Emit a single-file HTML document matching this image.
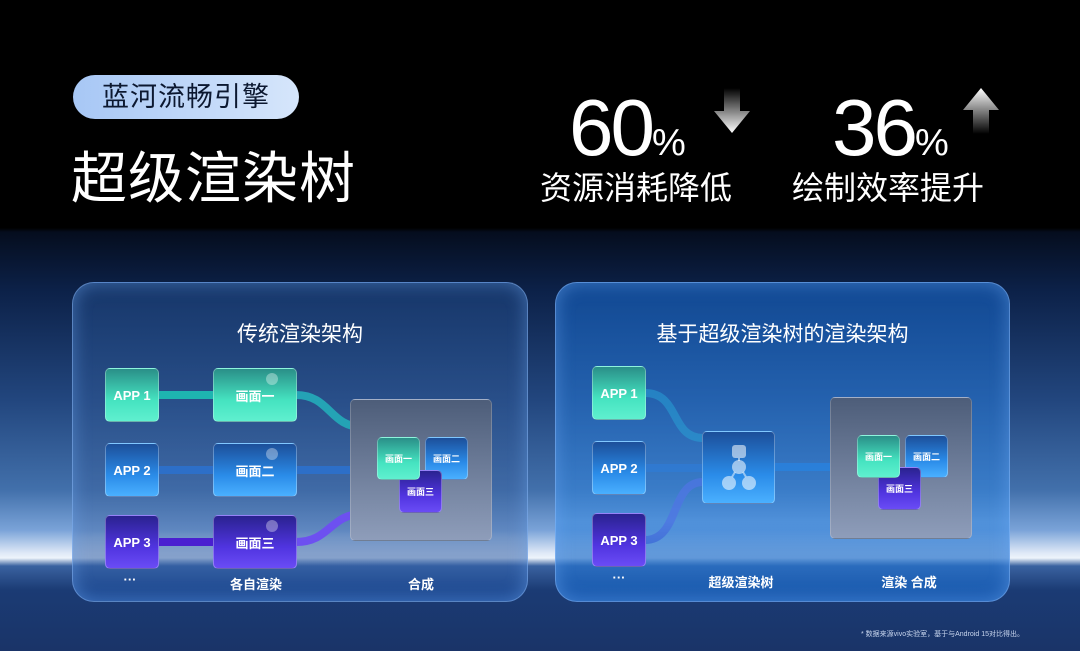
<!DOCTYPE html>
<html><head><meta charset="utf-8"><style>
*{margin:0;padding:0;box-sizing:border-box}
body{width:1080px;height:651px;overflow:hidden;position:relative;font-family:"Liberation Sans","Noto Sans CJK SC",sans-serif;color:#fff;
background:linear-gradient(180deg,#000 0,#000 228px,#050d1e 232px,#0c2148 290px,#22467e 400px,#4270ab 490px,#7aa3d8 530px,#dfe9f7 553px,#eef4fb 558px,#3a62a0 566px,#1b3b74 590px,#1a3468 651px)}
.a{position:absolute}
.pill{left:73px;top:75px;width:226px;height:44px;border-radius:22px;background:linear-gradient(90deg,#a7c7f5,#d6e6fb);color:#0c1830;font-size:27px;line-height:44px;text-align:center;letter-spacing:1px}
.h1{left:71px;top:146px;font-size:56px;line-height:66px;letter-spacing:1px}
.num{font-size:80px;line-height:80px;letter-spacing:-3px}
.pct{font-size:38px}
.sub{font-size:32px;line-height:36px}
.panel{border-radius:22px;border:1px solid rgba(140,190,255,.55);box-shadow:inset 0 0 18px rgba(120,180,255,.45)}
.pt{font-size:21px;text-align:center;width:100%;top:36px}
.app,.fr{border-radius:5px;font-size:13px;font-weight:bold;display:flex;align-items:center;justify-content:center;border:1px solid rgba(255,255,255,.3)}
.g{background:linear-gradient(180deg,#2a8f88,#45e3c0 60%,#5ff0cf)}
.b{background:linear-gradient(180deg,#1c4f9a,#2a8be8 60%,#4ab0ff)}
.p{background:linear-gradient(180deg,#2a2290,#5034e0 60%,#6a4cf5)}
.dot{position:absolute;border-radius:50%;background:rgba(255,255,255,.35)}
.comp{background:linear-gradient(180deg,#4d5d79,#8e9dba);border-radius:5px;border:1px solid rgba(255,255,255,.2)}
.sm{font-size:9px;font-weight:bold}
.lab{font-size:13px;font-weight:bold;text-align:center}
</style></head><body>
<div class="a pill">蓝河流畅引擎</div>
<div class="a h1">超级渲染树</div>

<div class="a num" style="left:569px;top:88px">60<span class="pct">%</span></div>
<svg class="a" style="left:713px;top:86px" width="40" height="50"><defs><linearGradient id="dg" x1="0" y1="0" x2="0" y2="1"><stop offset="0" stop-color="#fff" stop-opacity="0"/><stop offset="1" stop-color="#fff"/></linearGradient><linearGradient id="ug" x1="0" y1="1" x2="0" y2="0"><stop offset="0" stop-color="#fff" stop-opacity="0"/><stop offset="1" stop-color="#fff"/></linearGradient></defs><polygon points="11,2 27,2 27,25 37,25 19,47 1,25 11,25" fill="url(#dg)"/></svg>
<div class="a sub" style="left:540px;top:170px">资源消耗降低</div>
<div class="a num" style="left:832px;top:88px">36<span class="pct">%</span></div>
<svg class="a" style="left:962px;top:86px" width="40" height="50"><polygon points="19,2 37,24 27,24 27,48 11,48 11,24 1,24" fill="url(#ug)"/></svg>
<div class="a sub" style="left:792px;top:170px">绘制效率提升</div>

<!-- left panel -->
<div class="a panel" style="left:72px;top:282px;width:456px;height:320px;background:linear-gradient(180deg,rgba(30,70,130,.6),rgba(70,110,170,.5) 80%,rgba(30,80,160,.7))"></div>
<div class="a pt" style="left:72px;top:318px;width:456px">传统渲染架构</div>
<svg class="a" style="left:0;top:0" width="1080" height="651">
<g fill="none" stroke-width="8">
<path d="M158 395 H214" stroke="#1eb4b0"/>
<path d="M296 395 C330 395 330 427 362 427" stroke="#24a3b5"/>
<path d="M158 470 H214 M296 470 H362" stroke="#2d6fc8"/>
<path d="M158 542 H214" stroke="#4a1fd0"/>
<path d="M296 542 C330 542 330 514 362 514" stroke="#6d50f0"/>
<path d="M645 393 C680 393 670 438 703 438" stroke="#27a6bb"/>
<path d="M645 468 H703" stroke="#2e6fc6"/>
<path d="M645 540 C680 540 670 482 703 482" stroke="#6a62e0"/>
<path d="M775 467 H832" stroke="#1e7fe0"/>
</g></svg>
<div class="a app g" style="left:105px;top:368px;width:54px;height:54px">APP 1</div>
<div class="a app b" style="left:105px;top:443px;width:54px;height:54px">APP 2</div>
<div class="a app p" style="left:105px;top:515px;width:54px;height:54px">APP 3</div>
<div class="a fr g" style="left:213px;top:368px;width:84px;height:54px">画面一<div class="dot" style="left:52px;top:4px;width:12px;height:12px"></div></div>
<div class="a fr b" style="left:213px;top:443px;width:84px;height:54px">画面二<div class="dot" style="left:52px;top:4px;width:12px;height:12px"></div></div>
<div class="a fr p" style="left:213px;top:515px;width:84px;height:54px">画面三<div class="dot" style="left:52px;top:4px;width:12px;height:12px"></div></div>
<div class="a comp" style="left:350px;top:399px;width:142px;height:142px"></div>
<div class="a fr b sm" style="left:425px;top:437px;width:43px;height:43px">画面二</div>
<div class="a fr p sm" style="left:399px;top:470px;width:43px;height:43px">画面三</div>
<div class="a fr g sm" style="left:377px;top:437px;width:43px;height:43px">画面一</div>
<div class="a lab" style="left:110px;top:572px;width:40px">···</div>
<div class="a lab" style="left:216px;top:574px;width:80px">各自渲染</div>
<div class="a lab" style="left:391px;top:574px;width:60px">合成</div>

<!-- right panel -->
<div class="a panel" style="left:555px;top:282px;width:455px;height:320px;background:linear-gradient(180deg,rgba(20,90,180,.7),rgba(60,140,225,.6) 75%,rgba(25,95,185,.85))"></div>
<div class="a pt" style="left:555px;top:318px;width:455px">基于超级渲染树的渲染架构</div>
<div class="a app g" style="left:592px;top:366px;width:54px;height:54px">APP 1</div>
<div class="a app b" style="left:592px;top:441px;width:54px;height:54px">APP 2</div>
<div class="a app p" style="left:592px;top:513px;width:54px;height:54px">APP 3</div>
<div class="a app b" style="left:702px;top:431px;width:73px;height:73px">
<svg width="40" height="50" viewBox="0 0 40 50"><g fill="rgba(255,255,255,.55)"><rect x="13" y="2" width="14" height="13" rx="3"/><circle cx="20" cy="24" r="7"/><circle cx="10" cy="40" r="7"/><circle cx="30" cy="40" r="7"/></g><path d="M20 15v3M16 29l-3 5M24 29l3 5" stroke="rgba(255,255,255,.5)" stroke-width="2"/></svg></div>
<div class="a comp" style="left:830px;top:397px;width:142px;height:142px"></div>
<div class="a fr b sm" style="left:905px;top:435px;width:43px;height:43px">画面二</div>
<div class="a fr p sm" style="left:878px;top:467px;width:43px;height:43px">画面三</div>
<div class="a fr g sm" style="left:857px;top:435px;width:43px;height:43px">画面一</div>
<div class="a lab" style="left:599px;top:570px;width:40px">···</div>
<div class="a lab" style="left:701px;top:572px;width:80px">超级渲染树</div>
<div class="a lab" style="left:869px;top:572px;width:80px">渲染 合成</div>

<div class="a" style="left:861px;top:629px;font-size:7px;color:#c8d6ee">* 数据来源vivo实验室，基于与Android 15对比得出。</div>
</body></html>
